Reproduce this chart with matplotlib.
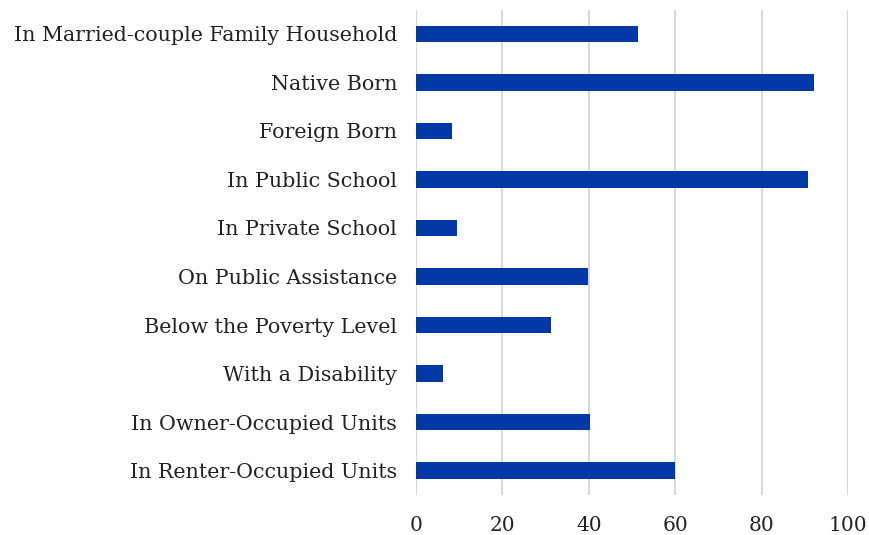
import matplotlib
matplotlib.use("Agg")
import matplotlib.pyplot as plt

categories = [
    "In Married-couple Family Household",
    "Native Born",
    "Foreign Born",
    "In Public School",
    "In Private School",
    "On Public Assistance",
    "Below the Poverty Level",
    "With a Disability",
    "In Owner-Occupied Units",
    "In Renter-Occupied Units",
]
values = [51.4, 92.0, 8.4, 90.6, 9.6, 39.7, 31.3, 6.2, 40.3, 60.0]
xticks = [0, 20, 40, 60, 80, 100]

plt.rcParams["font.family"] = ["DejaVu Serif"]

fig = plt.figure(figsize=(8.7, 5.35), dpi=100)
ax = fig.add_axes([0.478, 0.075, 0.497, 0.907])

pos = list(range(len(categories)))
ax.barh(pos, values, height=0.34, color="#0039A6", zorder=3)
ax.set_yticks(pos)
ax.set_yticklabels(categories, fontsize=14.9, color="#222222")
ax.set_ylim(len(categories) - 0.5, -0.5)
ax.set_xlim(0, 100)
ax.set_xticks(xticks)
ax.set_xticklabels([str(t) for t in xticks], fontsize=14.5, color="#222222")
ax.grid(axis="x", color="#D9D9D9", linewidth=1.5, zorder=0)
ax.tick_params(length=0)
ax.tick_params(axis="x", pad=15)
ax.tick_params(axis="y", pad=13.5)
for s in ax.spines.values():
    s.set_visible(False)

fig.savefig("out.png", dpi=100)
